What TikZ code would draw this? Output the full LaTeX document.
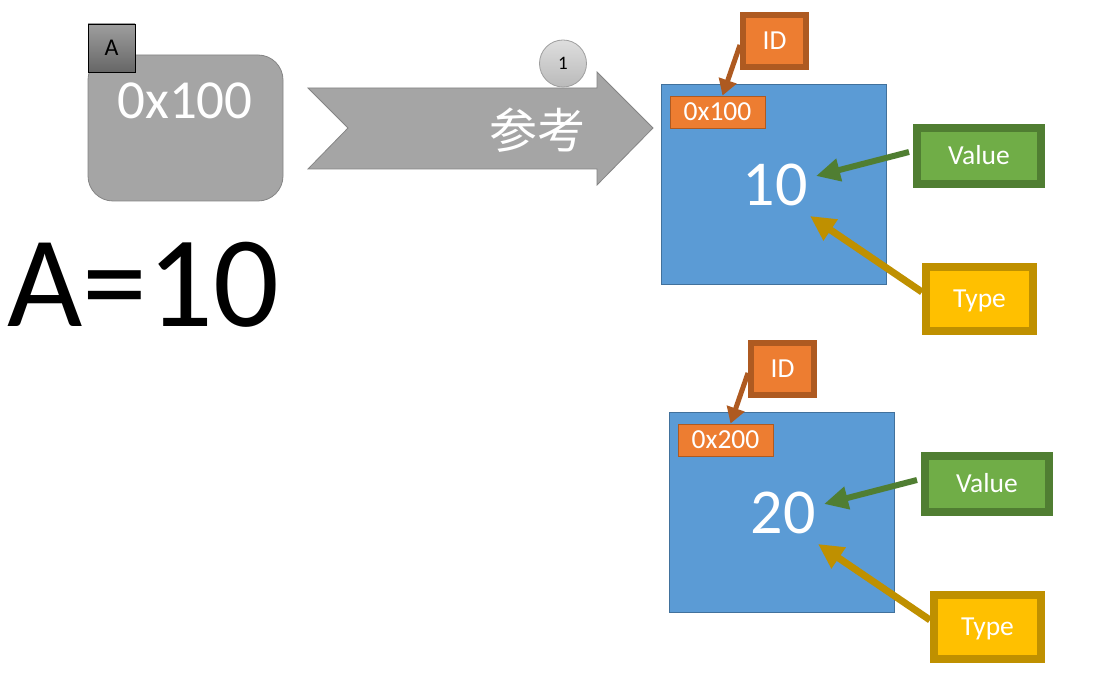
\documentclass[tikz,border=0pt]{standalone}
\usepackage{fontspec}
\setmainfont{Carlito}
\newfontfamily\cjk{Noto Sans CJK SC}
\usetikzlibrary{arrows.meta}
\definecolor{gfill}{HTML}{A5A5A5}
\definecolor{gdraw}{HTML}{858585}
\definecolor{blfill}{HTML}{5B9BD5}
\definecolor{bldraw}{HTML}{41719C}
\definecolor{orfill}{HTML}{ED7D31}
\definecolor{ordraw}{HTML}{AE5A21}
\definecolor{gnfill}{HTML}{70AD47}
\definecolor{gndraw}{HTML}{507E32}
\definecolor{yefill}{HTML}{FFC000}
\definecolor{yedraw}{HTML}{BF9000}
\begin{document}
\begin{tikzpicture}[x=1pt,y=-1pt,
  lbl/.style={rectangle, inner sep=0pt, text=white, font=\fontsize{27.5}{31}\selectfont, text height=17.4pt, text depth=0pt},
  idbox/.style={lbl, fill=orfill, draw=ordraw, line width=6pt, minimum width=63pt, minimum height=52pt},
  valbox/.style={lbl, fill=gnfill, draw=gndraw, line width=8pt, minimum width=124pt, minimum height=56pt},
  typebox/.style={lbl, fill=yefill, draw=yedraw, line width=8pt, minimum width=107pt, minimum height=64pt},
  addrlab/.style={lbl, fill=orfill, draw=ordraw, line width=0.8pt, minimum width=95pt, minimum height=32pt},
  mem/.style={rectangle, fill=blfill, draw=bldraw, line width=0.8pt, minimum width=225pt, minimum height=200pt},
  numtxt/.style={inner sep=0pt, text=white, font=\fontsize{64}{72}\selectfont, text height=40.4pt, text depth=0pt},
  idarrow/.style={draw=ordraw, line width=5pt, -{Triangle[length=16pt,width=18pt]}},
  valarrow/.style={draw=gndraw, line width=6pt, -{Triangle[length=24pt,width=22pt]}},
  typearrow/.style={draw=yedraw, line width=7pt, -{Triangle[length=25pt,width=24pt]}},
  refshape/.style={fill=gfill, draw=gdraw, line width=0.8pt}
]
\useasboundingbox (0,0) rectangle (1100,700);
\fill[white] (0,0) rectangle (1100,700);

% variable A
\node[rectangle, rounded corners=25pt, fill=gfill, draw=gdraw, line width=0.8pt,
      minimum width=195pt, minimum height=146pt] (gbox) at (185.5,128) {};
\node[inner sep=0pt, text=white, font=\fontsize{55}{62}\selectfont, text height=34.8pt, text depth=0pt] (gtxt) at (185,101.5) {0x100};
\node[rectangle, top color=black!38, bottom color=black!60, draw=black, line width=0.8pt,
      minimum width=47pt, minimum height=48pt, inner sep=0pt, font=\fontsize{24}{28}\selectfont] (abox) at (111.5,48) {A};

\node[anchor=base west, inner sep=0pt, font=\fontsize{130}{140}\selectfont] (eq) at (7,327) {A=10};

% reference arrow
\path[refshape] (308,88) -- (597,88) -- (597,72) -- (653,128) -- (597,185) -- (597,169) -- (308,169) -- (348,128) -- cycle;
\node[text=white, font=\cjk\fontsize{48}{52}\selectfont, inner sep=0pt] (ref) at (537,130) {参考};
\node[circle, top color=black!13, bottom color=black!27, draw=black!38, line width=0.8pt,
      minimum size=47pt, inner sep=0pt, font=\fontsize{19}{22}\selectfont] (one) at (563,63.5) {1};

% object 1
\node[mem] (blue1) at (773.5,184) {};
\node[addrlab] (lab1) at (717.5,112) {0x100};
\node[numtxt] (num1) at (775,185) {10};
\node[idbox] (id1) at (774.5,41) {ID};
\node[valbox] (val1) at (979,156) {Value};
\node[typebox] (type1) at (979.5,299) {Type};
\coordinate (v1tip) at (816,176);
\coordinate (t1tip) at (810,216);
\draw[idarrow] ([yshift=-4pt]id1.west) -- ([xshift=5pt]lab1.north);
\draw[valarrow] ([xshift=-4pt,yshift=4pt]val1.west) -- (v1tip);
\draw[typearrow] ([yshift=7pt]type1.west) -- (t1tip);

% object 2
\node[mem] (blue2) at (781.5,512) {};
\node[addrlab] (lab2) at (725.5,440) {0x200};
\node[numtxt] (num2) at (783,513) {20};
\node[idbox] (id2) at (782.5,369) {ID};
\node[valbox] (val2) at (987,484) {Value};
\node[typebox] (type2) at (987.5,627) {Type};
\coordinate (v2tip) at (824,504);
\coordinate (t2tip) at (818,544);
\draw[idarrow] ([yshift=-4pt]id2.west) -- ([xshift=5pt]lab2.north);
\draw[valarrow] ([xshift=-4pt,yshift=4pt]val2.west) -- (v2tip);
\draw[typearrow] ([yshift=7pt]type2.west) -- (t2tip);
\end{tikzpicture}
\end{document}
